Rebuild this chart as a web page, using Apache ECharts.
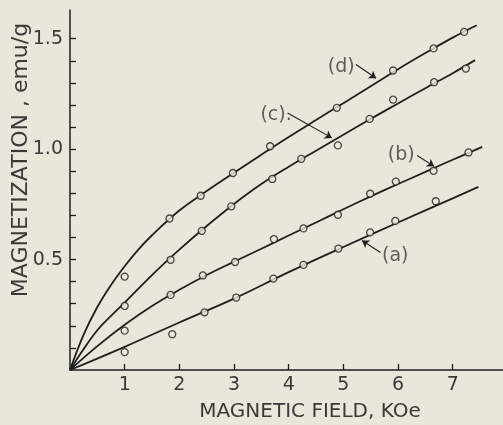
<!DOCTYPE html>
<html>
<head>
<meta charset="utf-8">
<script src="https://cdn.jsdelivr.net/npm/echarts@6/dist/echarts.min.js"></script>
<style>
html,body{margin:0;padding:0;background:#e9e7db;}
#c{width:503px;height:425px;}
</style>
</head>
<body>
<div id="c"></div>
<script>
// Fitted curves (field KOe, magnetization emu/g)
const lineA = [[0,0],[1,0.105],[2,0.215],[3,0.323],[4,0.443],[5,0.557],[6,0.668],[7,0.777],[7.47,0.829]];
const lineB = [[0,0],[0.5,0.108],[1,0.205],[1.5,0.29],[2,0.363],[2.5,0.43],[3,0.49],[3.5,0.549],[4,0.609],[4.5,0.668],[5,0.728],[5.5,0.786],[6,0.842],[6.5,0.897],[7,0.952],[7.54,1.01]];
const lineC = [[0,0],[0.25,0.095],[0.5,0.18],[0.75,0.245],[1,0.305],[1.5,0.43],[2,0.545],[2.5,0.652],[3,0.752],[3.5,0.842],[4,0.92],[4.5,0.993],[5,1.065],[5.5,1.137],[6,1.207],[6.5,1.276],[7,1.344],[7.41,1.403]];
const lineD = [[0,0],[0.25,0.16],[0.5,0.285],[0.75,0.385],[1,0.47],[1.25,0.545],[1.5,0.61],[2,0.722],[2.5,0.81],[3,0.893],[3.5,0.975],[4,1.055],[4.5,1.132],[5,1.208],[5.5,1.285],[6,1.362],[6.5,1.435],[7,1.505],[7.44,1.561]];

// Measured points (open circles)
const pointsA = [[1.0,0.081],[1.87,0.162],[2.46,0.261],[3.04,0.328],[3.72,0.414],[4.27,0.476],[4.91,0.550],[5.49,0.623],[5.95,0.675],[6.69,0.764]];
const pointsB = [[1.0,0.178],[1.84,0.340],[2.43,0.428],[3.02,0.489],[3.73,0.593],[4.27,0.641],[4.90,0.703],[5.49,0.798],[5.96,0.853],[6.65,0.902],[7.29,0.985]];
const pointsC = [[1.0,0.290],[1.84,0.499],[2.41,0.630],[2.95,0.741],[3.70,0.865],[4.23,0.956],[4.90,1.017],[5.48,1.137],[5.91,1.224],[6.66,1.303],[7.24,1.365]];
const pointsD = [[1.0,0.423],[1.82,0.686],[2.39,0.789],[2.98,0.892],[3.66,1.013],[4.88,1.187],[5.91,1.356],[6.65,1.456],[7.21,1.531]];

// Curve labels and their arrows (data coordinates)
const curveLabels = ['(a)','(b)','(c).','(d)'];
const labelPos = [[5.95,0.514],[6.06,0.972],[3.77,1.153],[4.96,1.373]];
const arrowFrom = [[5.68,0.532],[6.35,0.971],[3.98,1.164],[5.23,1.383]];
const arrowTo = [[5.34,0.586],[6.66,0.922],[4.79,1.051],[5.60,1.321]];

// Axes
const xTickValues = [1,2,3,4,5,6,7];
const xLabelValues = [1,2,3,4,5,6,7];
const yTickValues = [0.1,0.2,0.3,0.4,0.5,0.6,0.7,0.8,0.9,1.0,1.1,1.2,1.3,1.4,1.5];
const yLabelValues = [0.5,1.0,1.5];

const INK = '#1f1f1f';
const TXT = '#3a3a3a';
const BG = '#e9e7db';
const FONT = 'DejaVu Sans';

const chart = echarts.init(document.getElementById('c'), null, {renderer:'canvas'});

function curve(data){
  return {type:'line', data:data, smooth:0.4, showSymbol:false, symbol:'none',
    lineStyle:{color:INK, width:1.8}, z:2, silent:true};
}
function pts(data){
  return {type:'scatter', data:data, symbol:'circle', symbolSize:7,
    itemStyle:{color:BG, borderColor:INK, borderWidth:1.3}, z:3, silent:true};
}

const option = {
  backgroundColor: BG,
  animation:false,
  grid:{left:70, right:0, top:10, bottom:55, containLabel:false, outerBoundsMode:'none'},
  xAxis:{
    type:'value', min:0, max:7.92, interval:1,
    axisLine:{show:true, lineStyle:{color:INK, width:1.5}},
    axisTick:{show:true, inside:true, length:6, customValues:xTickValues, lineStyle:{color:INK, width:1.3}},
    axisLabel:{customValues:xLabelValues, fontSize:19, fontFamily:FONT, color:TXT, margin:6},
    splitLine:{show:false},
    name:'MAGNETIC FIELD, KOe', nameLocation:'middle', nameGap:32, nameMoveOverlap:false,
    nameTextStyle:{fontSize:20, fontFamily:FONT, color:TXT, padding:[0,0,0,47]}
  },
  yAxis:{
    type:'value', min:0, max:1.63, interval:0.1,
    axisLine:{show:true, lineStyle:{color:INK, width:1.5}},
    axisTick:{show:true, inside:true, length:6, customValues:yTickValues, lineStyle:{color:INK, width:1.3}},
    axisLabel:{customValues:yLabelValues, fontSize:19, fontFamily:FONT, color:TXT, margin:7,
      formatter:function(v){return v.toFixed(1);}},
    splitLine:{show:false},
    name:'MAGNETIZATION , emu/g', nameLocation:'middle', nameGap:38, nameRotate:90, nameMoveOverlap:false,
    nameTextStyle:{fontSize:22, fontFamily:FONT, color:TXT, padding:[0,0,0,60]}
  },
  series:[
    curve(lineA), curve(lineB), curve(lineC), curve(lineD),
    pts(pointsA), pts(pointsB), pts(pointsC), pts(pointsD),
    {
      type:'scatter', symbolSize:1, itemStyle:{color:'rgba(0,0,0,0)'}, z:4, silent:true,
      data: labelPos.map(function(p,i){return {value:p, name:curveLabels[i]};}),
      label:{show:true, position:'inside', formatter:'{b}', fontSize:19, fontFamily:FONT, color:TXT}
    },
    {
      type:'line', data:[], z:4, silent:true,
      markLine:{
        silent:true, symbol:['none','arrow'], symbolSize:7, animation:false,
        label:{show:false},
        lineStyle:{color:INK, width:1.1, type:'solid'},
        data: arrowFrom.map(function(p,i){return [{coord:p},{coord:arrowTo[i]}];})
      }
    }
  ]
};
chart.setOption(option);
</script>
</body>
</html>
